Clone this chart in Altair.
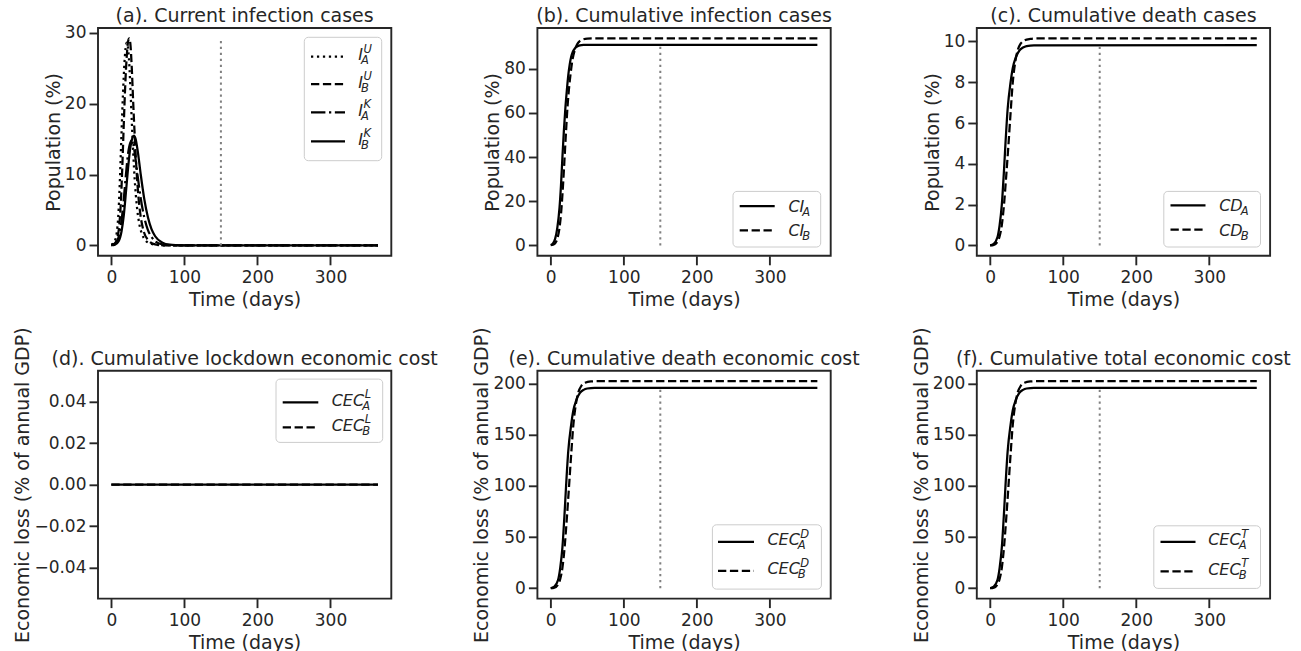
import altair as alt
import pandas as pd

# ---------------- data ----------------
# (a) current infection cases (% of population)
IAU_days = [0, 4, 7, 10, 12, 14, 16, 18, 20, 21, 22, 24, 26, 28, 30, 32, 35, 38, 42, 47, 55, 70, 100, 365]
IAU_vals = [0.1, 0.5, 1.5, 5.0, 10.0, 16.0, 21.5, 25.8, 28.2, 28.6, 28.4, 26.5, 22.5, 17.5, 13.0, 9.3, 5.5, 3.2, 1.6, 0.7, 0.2, 0.02, 0.0, 0.0]
IBU_days = [0, 5, 8, 11, 13, 15, 17, 19, 21, 23, 24.5, 26, 28, 30, 32, 34, 37, 40, 44, 50, 60, 75, 100, 365]
IBU_vals = [0.05, 0.3, 1.0, 3.0, 6.0, 11.0, 17.0, 22.5, 26.5, 28.8, 29.2, 28.5, 25.0, 20.0, 15.5, 11.5, 7.0, 4.2, 2.1, 0.8, 0.15, 0.02, 0.0, 0.0]
IAK_days = [0, 5, 10, 14, 17, 20, 23, 26, 28, 30, 33, 36, 40, 45, 50, 55, 60, 70, 80, 100, 365]
IAK_vals = [0.05, 0.25, 1.2, 3.5, 6.5, 10.0, 13.0, 14.5, 14.8, 14.3, 12.3, 9.8, 6.8, 4.0, 2.2, 1.2, 0.6, 0.15, 0.04, 0.0, 0.0]
IBK_days = [0, 5, 10, 14, 17, 20, 23, 26, 29, 31, 33, 36, 40, 45, 50, 55, 60, 70, 80, 90, 100, 365]
IBK_vals = [0.03, 0.12, 0.6, 2.0, 4.2, 7.5, 11.0, 13.8, 15.2, 15.5, 15.1, 13.4, 10.2, 6.6, 4.0, 2.3, 1.3, 0.4, 0.1, 0.03, 0.0, 0.0]

# (b) cumulative infection cases
CIA_days = [0, 3, 6, 9, 12, 14, 16, 18, 20, 22, 24, 26, 28, 30, 33, 36, 40, 45, 55, 365]
CIA_vals = [0.2, 0.9, 3.0, 8.0, 17.0, 27.0, 40.0, 52.0, 62.0, 70.0, 77.0, 82.0, 85.5, 87.5, 89.2, 90.1, 90.6, 90.8, 90.9, 90.9]
CIB_days = [0, 3, 6, 9, 12, 14, 16, 18, 19, 21, 23, 25, 28, 30, 33, 36, 40, 45, 50, 60, 365]
CIB_vals = [0.1, 0.3, 1.0, 3.0, 8.0, 14.0, 23.0, 34.0, 40.0, 52.0, 63.0, 71.0, 80.0, 84.5, 88.5, 91.0, 92.6, 93.4, 93.7, 93.8, 93.8]

# (c) cumulative death cases
CDA_days = [0, 5, 10, 13, 16, 19, 21, 24, 28, 31, 35, 40, 45, 50, 60, 365]
CDA_vals = [0.0, 0.08, 0.4, 1.0, 2.0, 3.7, 5.0, 6.7, 8.0, 8.7, 9.2, 9.55, 9.7, 9.77, 9.81, 9.82]
CDB_days = [0, 5, 10, 13, 16, 19, 22, 25, 28, 31, 34, 38, 42, 47, 55, 65, 365]
CDB_vals = [0.0, 0.03, 0.18, 0.45, 1.0, 2.0, 3.4, 4.9, 6.5, 8.0, 8.9, 9.6, 9.9, 10.05, 10.12, 10.15, 10.15]

# (d) cumulative lockdown economic cost (% of annual GDP)
CECLA_days = [0, 365]
CECLA_vals = [0.0, 0.0]
CECLB_days = [0, 365]
CECLB_vals = [0.0, 0.0]

# (e) cumulative death economic cost
CECDA_days = [0, 5, 10, 13, 16, 19, 21, 24, 28, 31, 35, 40, 45, 50, 60, 365]
CECDA_vals = [0.0, 1.6, 8.0, 20.0, 40.0, 74.0, 100.0, 134.0, 160.0, 174.0, 184.0, 191.0, 194.0, 195.3, 196.0, 196.0]
CECDB_days = [0, 5, 10, 13, 16, 19, 22, 25, 28, 31, 34, 38, 42, 47, 55, 65, 365]
CECDB_vals = [0.0, 0.6, 3.6, 9.0, 20.0, 40.0, 68.0, 99.0, 131.0, 160.0, 178.0, 192.0, 198.0, 201.0, 202.2, 202.5, 202.5]

# (f) cumulative total economic cost
CECTA_days = [0, 5, 10, 13, 16, 19, 21, 24, 28, 31, 35, 40, 45, 50, 60, 365]
CECTA_vals = [0.0, 1.6, 8.0, 20.0, 40.0, 74.0, 100.0, 134.0, 160.0, 174.0, 184.0, 191.0, 194.0, 195.3, 196.0, 196.0]
CECTB_days = [0, 5, 10, 13, 16, 19, 22, 25, 28, 31, 34, 38, 42, 47, 55, 65, 365]
CECTB_vals = [0.0, 0.6, 3.6, 9.0, 20.0, 40.0, 68.0, 99.0, 131.0, 160.0, 178.0, 192.0, 198.0, 201.0, 202.2, 202.5, 202.5]

# vertical marker (day 150) heights
VLINE_DAY = 150
VLINE_TOP = {"a": 29.2, "b": 90.5, "c": 9.9, "d": None, "e": 197.0, "f": 197.0}

X_TICKS = [0, 100, 200, 300]

# ---------------- style ----------------
FONT = "DejaVu Sans"
TXT = "#262626"
W, H = 293.3, 227.8
SOLID = None
DASHED = [8.3, 3.6]
DASHDOT = [14.4, 3.6, 2.25, 3.6]
DOTTED = [2.25, 3.7]

LEG_FS = 16
SUB_FS = 11.5
# oblique advance widths (em)
ADV = {"I": 0.295, "C": 0.698, "E": 0.632, "D": 0.770}


def text_w(s, fs):
    return sum(ADV[c] for c in s) * fs


def legend_layers(box, lx, tx, rows):
    """box=(x1,y1,x2,y2); lx=(x1,x2); tx=text x; rows=[(y, dash, main, sup, sub)]"""
    out = []
    out.append(
        alt.Chart().mark_rect(fill="white", fillOpacity=0.8, stroke="#cccccc", strokeWidth=1, cornerRadius=4)
        .encode(x=alt.value(box[0]), x2=alt.value(box[2]), y=alt.value(box[1]), y2=alt.value(box[3]))
    )
    for (ry, dash, main, sup, sub) in rows:
        kw = dict(color="black", strokeWidth=2.25, strokeCap="butt")
        if dash is not None:
            kw["strokeDash"] = dash
        out.append(alt.Chart().mark_rule(**kw).encode(x=alt.value(lx[0]), x2=alt.value(lx[1]), y=alt.value(ry)))
        base = ry + (3.5 if sup else 6.0)
        out.append(
            alt.Chart().mark_text(align="left", baseline="alphabetic", font=FONT, fontStyle="italic",
                                  fontSize=LEG_FS, color=TXT)
            .encode(x=alt.value(tx), y=alt.value(base), text=alt.value(main))
        )
        w = text_w(main, LEG_FS)
        if sup:
            out.append(
                alt.Chart().mark_text(align="left", baseline="alphabetic", font=FONT, fontStyle="italic",
                                      fontSize=SUB_FS, color=TXT)
                .encode(x=alt.value(tx + w + 0.5), y=alt.value(base - 7.5), text=alt.value(sup))
            )
        if sub:
            out.append(
                alt.Chart().mark_text(align="left", baseline="alphabetic", font=FONT, fontStyle="italic",
                                      fontSize=SUB_FS, color=TXT)
                .encode(x=alt.value(tx + w - 2.0), y=alt.value(base + 4), text=alt.value(sub))
            )
    return out


def panel(title, series, ydom, yticks, ytitle, vtop, legend, yfmt=None):
    xs = alt.Scale(domain=[-18.25, 383.25], nice=False, zero=False)
    ys = alt.Scale(domain=ydom, nice=False, zero=False)
    xa = alt.Axis(values=X_TICKS, title="Time (days)", format="d")
    ya_kw = dict(values=yticks, title=ytitle)
    if yfmt:
        ya_kw["format"] = yfmt
    ya = alt.Axis(**ya_kw)
    layers = []
    for days, vals, dash in series:
        df = pd.DataFrame({"day": days, "val": vals})
        kw = dict(color="black", strokeWidth=2.25, interpolate="monotone", clip=True)
        if dash is not None:
            kw["strokeDash"] = dash
        layers.append(
            alt.Chart(df).mark_line(**kw).encode(
                x=alt.X("day:Q", scale=xs, axis=xa),
                y=alt.Y("val:Q", scale=ys, axis=ya),
            )
        )
    if vtop is not None:
        vdf = pd.DataFrame({"day": [VLINE_DAY], "val": [0.0], "val2": [vtop]})
        layers.append(
            alt.Chart(vdf).mark_rule(color="#808080", strokeWidth=2.0, strokeDash=DOTTED).encode(
                x=alt.X("day:Q", scale=xs, axis=xa),
                y=alt.Y("val:Q", scale=ys, axis=ya),
                y2="val2:Q",
            )
        )
    layers += legend_layers(*legend)
    # panel title drawn as text just above the frame
    layers.append(
        alt.Chart().mark_text(align="center", baseline="alphabetic", font=FONT, fontSize=19, color=TXT)
        .encode(x=alt.value(W / 2), y=alt.value(-6), text=alt.value(title))
    )
    return alt.layer(*layers).properties(width=W, height=H)


pa = panel(
    "(a). Current infection cases",
    [(IAU_days, IAU_vals, DOTTED), (IBU_days, IBU_vals, DASHED),
     (IAK_days, IAK_vals, DASHDOT), (IBK_days, IBK_vals, SOLID)],
    [-1.46, 30.66], [0, 10, 20, 30], "Population (%)", VLINE_TOP["a"],
    ((206.3, 9.3, 283.7, 132.7), (213, 247), 260.3,
     [(28.7, DOTTED, "I", "U", "A"), (56, DASHED, "I", "U", "B"),
      (84.3, DASHDOT, "I", "K", "A"), (113.3, SOLID, "I", "K", "B")]),
)
pb = panel(
    "(b). Cumulative infection cases",
    [(CIA_days, CIA_vals, SOLID), (CIB_days, CIB_vals, DASHED)],
    [-4.69, 98.49], [0, 20, 40, 60, 80], "Population (%)", VLINE_TOP["b"],
    ((195.6, 163.4, 283.3, 219), (202.3, 237.3), 251,
     [(178, SOLID, "CI", None, "A"), (202.4, DASHED, "CI", None, "B")]),
)
pc = panel(
    "(c). Cumulative death cases",
    [(CDA_days, CDA_vals, SOLID), (CDB_days, CDB_vals, DASHED)],
    [-0.5075, 10.6575], [0, 2, 4, 6, 8, 10], "Population (%)", VLINE_TOP["c"],
    ((187, 163.4, 283.7, 219), (193.7, 228.7), 242.4,
     [(177.4, SOLID, "CD", None, "A"), (201.7, DASHED, "CD", None, "B")]),
)
pd_ = panel(
    "(d). Cumulative lockdown economic cost",
    [(CECLA_days, CECLA_vals, SOLID), (CECLB_days, CECLB_vals, DASHED)],
    [-0.055, 0.055], [-0.04, -0.02, 0.0, 0.02, 0.04], "Economic loss (% of annual GDP)", VLINE_TOP["d"],
    ((178, 8.3, 284.7, 71.6), (184.7, 220.3), 233.7,
     [(31.6, SOLID, "CEC", "L", "A"), (56.6, DASHED, "CEC", "L", "B")]),
    yfmt=".2f",
)
pe = panel(
    "(e). Cumulative death economic cost",
    [(CECDA_days, CECDA_vals, SOLID), (CECDB_days, CECDB_vals, DASHED)],
    [-10.125, 212.625], [0, 50, 100, 150, 200], "Economic loss (% of annual GDP)", VLINE_TOP["e"],
    ((175, 154, 284, 218.3), (180.6, 216.6), 230,
     [(171, SOLID, "CEC", "D", "A"), (200, DASHED, "CEC", "D", "B")]),
)
pf = panel(
    "(f). Cumulative total economic cost",
    [(CECTA_days, CECTA_vals, SOLID), (CECTB_days, CECTB_vals, DASHED)],
    [-10.125, 212.625], [0, 50, 100, 150, 200], "Economic loss (% of annual GDP)", VLINE_TOP["f"],
    ((177, 155, 283.7, 217.6), (183.7, 218.7), 231.4,
     [(171, SOLID, "CEC", "T", "A"), (200.6, DASHED, "CEC", "T", "B")]),
)

chart = (
    alt.concat(pa, pb, pc, pd_, pe, pf, columns=3)
    .properties(spacing={"row": 114.8, "column": 145.4}, bounds="flush",
                padding={"left": 12, "top": 6, "right": 5, "bottom": 2})
    .configure(font=FONT)
    .configure_view(stroke=TXT, strokeWidth=1.9)
    .configure_axis(domain=False, grid=False, tickColor=TXT, tickWidth=1.9, tickSize=9,
                    labelFont=FONT, labelFontSize=17, labelColor=TXT,
                    titleFont=FONT, titleFontSize=19, titleFontWeight="normal", titleColor=TXT)
    .configure_axisX(labelPadding=4.5, titlePadding=5)
    .configure_axisY(labelPadding=3, titlePadding=1)
)

chart.save("out.html", embed_options={"renderer": "svg", "actions": False})
